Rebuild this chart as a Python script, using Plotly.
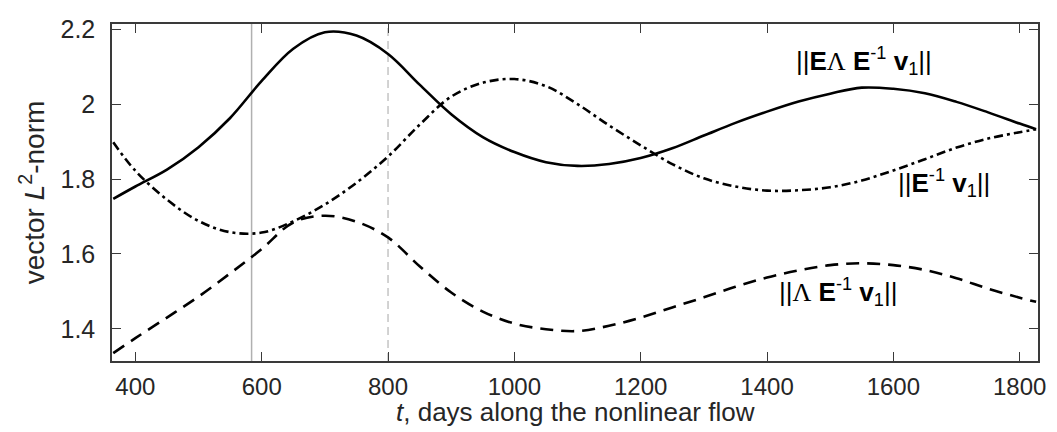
import plotly.graph_objects as go

# ---- data ----
days = [365, 400, 450, 500, 550, 600, 650, 700, 750, 800, 850, 900, 950, 1000,
        1050, 1100, 1150, 1200, 1250, 1300, 1350, 1400, 1450, 1500, 1550, 1600,
        1650, 1700, 1750, 1800, 1826]
norm_E_Lam_Einv_v1 = [1.747, 1.780, 1.825, 1.885, 1.963, 2.062, 2.148, 2.192, 2.183, 2.134,
                      2.052, 1.973, 1.912, 1.872, 1.845, 1.835, 1.840, 1.856, 1.882, 1.916,
                      1.950, 1.980, 2.007, 2.028, 2.044, 2.041, 2.029, 2.006, 1.978, 1.948, 1.933]
norm_Einv_v1 = [1.898, 1.822, 1.745, 1.688, 1.658, 1.657, 1.687, 1.732, 1.790, 1.860,
                1.945, 2.020, 2.057, 2.067, 2.048, 2.000, 1.943, 1.890, 1.840, 1.802,
                1.780, 1.769, 1.770, 1.778, 1.796, 1.823, 1.853, 1.884, 1.908, 1.925, 1.933]
norm_Lam_Einv_v1 = [1.335, 1.375, 1.430, 1.486, 1.548, 1.613, 1.684, 1.702, 1.686, 1.644,
                    1.567, 1.497, 1.446, 1.414, 1.399, 1.394, 1.408, 1.430, 1.457, 1.484,
                    1.512, 1.537, 1.556, 1.570, 1.575, 1.570, 1.557, 1.535, 1.507, 1.483, 1.472]
x_ticks = [400, 600, 800, 1000, 1200, 1400, 1600, 1800]
y_ticks = [1.4, 1.6, 1.8, 2.0, 2.2]
y_ticklabels = ["1.4", "1.6", "1.8", "2", "2.2"]
marker_days_solid = 584
marker_days_dashed = 800

LAM = "<span style=\"font-family:'Liberation Serif';font-weight:normal\">Λ</span>"
labels = [
    ("||<b>E</b>" + LAM + " <b>E</b><sup>-1</sup> <b>v</b><sub>1</sub>||", 1553, 2.115),
    ("||<b>E</b><sup>-1</sup> <b>v</b><sub>1</sub>||", 1680, 1.790),
    ("||" + LAM + " <b>E</b><sup>-1</sup> <b>v</b><sub>1</sub>||", 1513, 1.497),
]
x_title = "<i>t</i>, days along the nonlinear flow"
y_title = "vector <i>L</i><sup>2</sup>-norm"

FONT = "Liberation Sans, Arial, Helvetica, sans-serif"
AX = "#3a3a3a"
TXT = "#262626"

fig = go.Figure()
fig.add_trace(go.Scatter(x=days, y=norm_E_Lam_Einv_v1, mode="lines", line_shape="spline",
                         line=dict(color="black", width=2.6)))
fig.add_trace(go.Scatter(x=days, y=norm_Einv_v1, mode="lines", line_shape="spline",
                         line=dict(color="black", width=2.6, dash="9px,4px,3px,4px")))
fig.add_trace(go.Scatter(x=days, y=norm_Lam_Einv_v1, mode="lines", line_shape="spline",
                         line=dict(color="black", width=2.6, dash="13px,8px")))

fig.add_vline(x=marker_days_solid, line=dict(color="#b0b0b0", width=1.5), layer="below")
fig.add_vline(x=marker_days_dashed, line=dict(color="#c4c4c4", width=1.5, dash="8px,5px"), layer="below")

for txt, xx, yy in labels:
    fig.add_annotation(x=xx, y=yy, xref="x", yref="y", text=txt, showarrow=False,
                       font=dict(family=FONT, size=26, color="black"))

# x-axis title as a paper-anchored text just below the tick labels
fig.add_annotation(x=0.5, y=0, xref="paper", yref="paper", xanchor="center", yanchor="top",
                   yshift=-34, text=x_title, showarrow=False,
                   font=dict(family=FONT, size=26, color=TXT))

axis_common = dict(showline=True, linecolor=AX, linewidth=1.5, mirror="ticks",
                   ticks="inside", ticklen=9, tickwidth=1.2, tickcolor=AX,
                   showgrid=False, zeroline=False, automargin=False)

fig.update_xaxes(range=[363, 1829], tickvals=x_ticks, ticklabelstandoff=3,
                 tickfont=dict(family=FONT, size=24, color=TXT), **axis_common)
fig.update_yaxes(range=[1.314, 2.214], tickvals=y_ticks, ticktext=y_ticklabels, ticklabelstandoff=10,
                 tickfont=dict(family=FONT, size=25, color=TXT),
                 title=dict(text=y_title, font=dict(family=FONT, size=28, color=TXT), standoff=8),
                 **axis_common)

fig.update_layout(width=1057, height=432, showlegend=False,
                  margin=dict(l=104, r=27, t=16, b=79),
                  paper_bgcolor="white", plot_bgcolor="white")

fig.write_html("out.html")
